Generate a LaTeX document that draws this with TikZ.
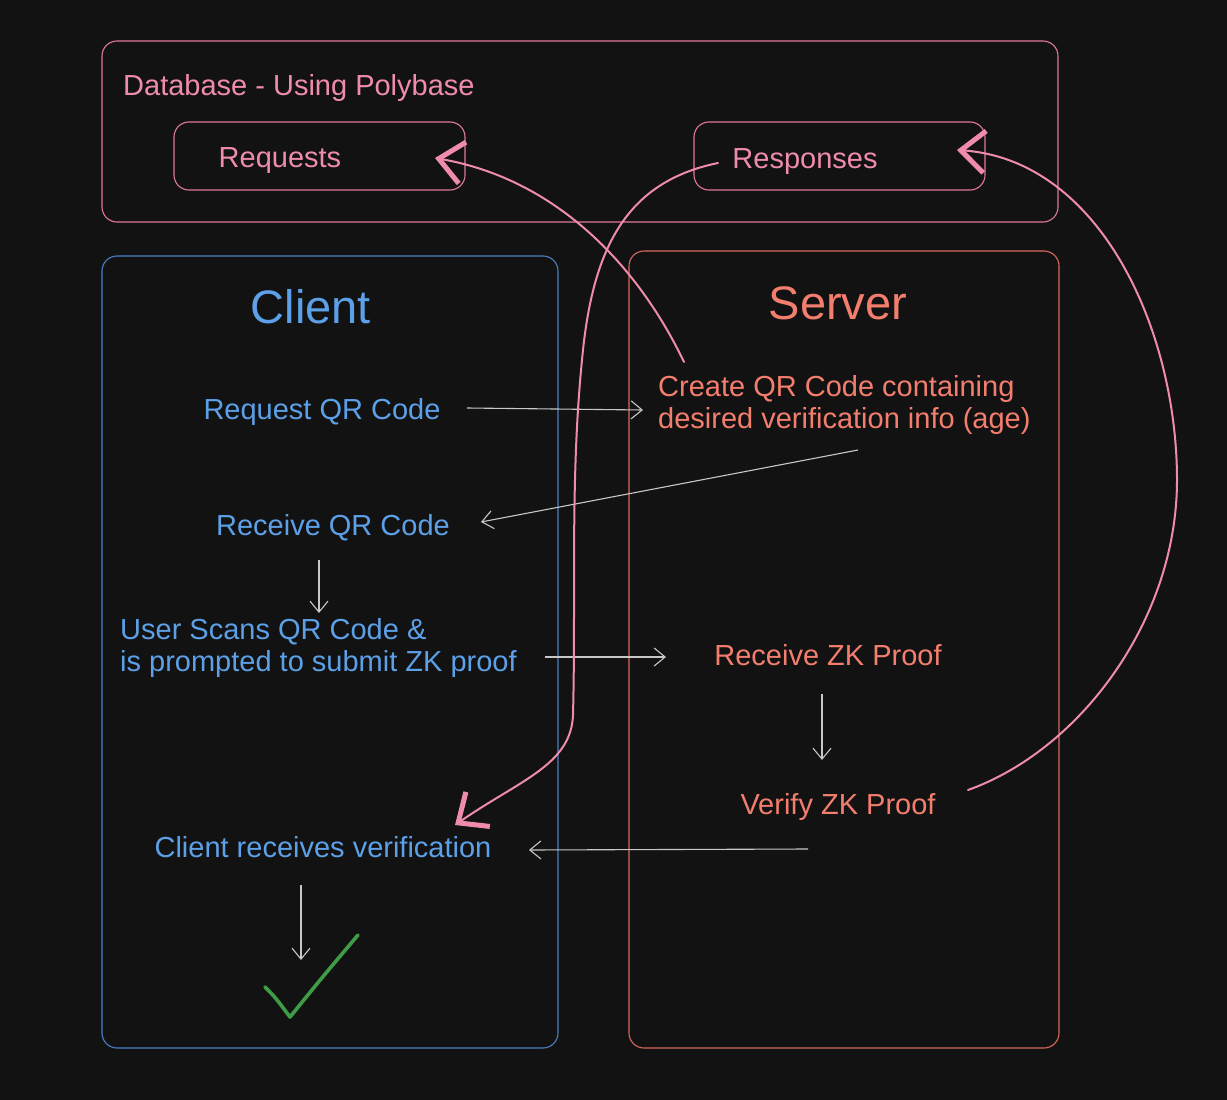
\documentclass[tikz,border=0pt]{standalone}
\usepackage{fontspec}
\setmainfont{Liberation Sans}
\usetikzlibrary{arrows.meta,calc}
\definecolor{bg}{HTML}{121212}
\definecolor{pinkc}{HTML}{F08CAB}
\definecolor{pinkbox}{HTML}{E07A9A}
\definecolor{bluet}{HTML}{5CA0E8}
\definecolor{blueb}{HTML}{4A80C4}
\definecolor{salmon}{HTML}{F47E6E}
\definecolor{salmonb}{HTML}{D8695E}
\definecolor{greenc}{HTML}{3F9C46}
\definecolor{grayc}{HTML}{C8C8C8}
\tikzset{
  frame/.style={draw, rounded corners=15pt, line width=1.1pt, inner sep=0pt, fill=none},
  txt/.style={inner sep=0pt, font=\fontsize{29}{32}\selectfont},
  bigtxt/.style={inner sep=0pt, font=\fontsize{47}{50}\selectfont},
  garrow/.style={draw=grayc, line width=1.1pt, -{Straight Barb[length=11pt,width=18pt,line width=1.1pt]}},
  parrow/.style={draw=pinkc, line width=2pt, -{Straight Barb[length=24pt,width=42pt,line width=5pt]}, line cap=round},
}
\begin{document}
\begin{tikzpicture}[x=1pt,y=-1pt]
\useasboundingbox (0,0) rectangle (1227,1100);
\fill[bg] (0,0) rectangle (1227,1100);

% frames
\node[frame, draw=pinkbox, minimum width=956pt, minimum height=181pt] (db) at (580,131.5) {};
\node[frame, draw=pinkbox, minimum width=291pt, minimum height=68pt] (reqbox) at (319.5,156) {};
\node[frame, draw=pinkbox, minimum width=291pt, minimum height=68pt] (respbox) at (839.5,156) {};
\node[frame, draw=blueb, minimum width=456pt, minimum height=792pt] (clientbox) at (330,652) {};
\node[frame, draw=salmonb, minimum width=430pt, minimum height=797pt] (serverbox) at (844,649.5) {};

% texts
\node[txt, text=pinkc, anchor=west] (dbtitle) at (123,88) {Database - Using Polybase};
\node[txt, text=pinkc] (requests) at (280,161) {Requests};
\node[txt, text=pinkc] (responses) at (805,162) {Responses};
\node[bigtxt, text=bluet] (clienttitle) at (311,307) {Client};
\node[bigtxt, text=salmon] (servertitle) at (838,303) {Server};
\node[txt, text=bluet] (reqqr) at (322,412) {Request QR Code};
\node[txt, text=salmon, anchor=west, align=left] (createqr) at (658,405) {Create QR Code containing\\desired verification info (age)};
\node[txt, text=bluet] (recqr) at (333,528) {Receive QR Code};
\node[txt, text=bluet, anchor=west, align=left] (scan) at (120,648) {User Scans QR Code \&\\is prompted to submit ZK proof};
\node[txt, text=salmon] (reczk) at (828,655) {Receive ZK Proof};
\node[txt, text=salmon] (verify) at (838,807) {Verify ZK Proof};
\node[txt, text=bluet] (clientrec) at (323,847) {Client receives verification};
\coordinate (chk) at (300,975);

% checkmark
\draw[greenc, line width=3.6pt, line cap=round, line join=round]
  ($(chk)+(-35,12)$) .. controls ($(chk)+(-25,22)$) .. ($(chk)+(-10,42)$)
  .. controls ($(chk)+(20,5)$) .. ($(chk)+(58,-40)$);

% gray arrows
\draw[garrow] ($(reqqr)+(145,-4)$) -- ($(createqr.west)+(-15,5)$);
\draw[garrow] ($(createqr.west)+(200,45)$) -- ($(recqr)+(148,-6)$);
\draw[garrow] ($(recqr)+(-14,32)$) -- ($(scan.west)+(199,-35)$);
\draw[garrow] ($(scan.west)+(425,9)$) -- ($(reczk)+(-162,2)$);
\draw[garrow] ($(reczk)+(-6,39)$) -- ($(verify)+(-16,-47)$);
\draw[garrow] ($(verify)+(-30,42)$) -- ($(clientrec)+(206,3)$);
\draw[garrow] ($(clientrec)+(-22,38)$) -- ($(chk)+(1,-15)$);

% pink arrows
\draw[parrow] ($(createqr.west)+(26,-43)$) .. controls (640,270) and (560,180) .. ($(requests)+(155,-3)$);
\draw[parrow] ($(responses)+(-87,1)$) .. controls (625,182) and (592,250) .. (582,360)
  .. controls (570,480) and (576,600) .. (573,715)
  .. controls (571,765) and (520,780) .. ($(clientrec)+(132,-22)$);
\draw[parrow] ($(verify)+(130,-17)$) .. controls (1080,750) and (1177,620) .. (1177,480)
  .. controls (1177,330) and (1100,160) .. ($(responses)+(152,-12)$);
\end{tikzpicture}
\end{document}
